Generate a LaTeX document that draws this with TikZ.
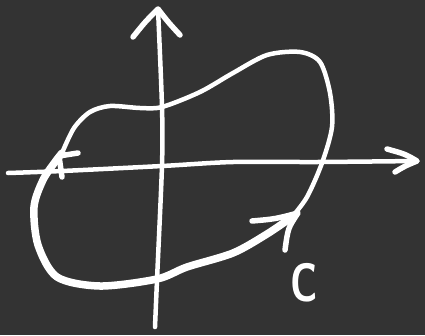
\documentclass[tikz,border=0pt]{standalone}
\usetikzlibrary{calc}
\definecolor{bg}{RGB}{51,51,51}
\tikzset{
  chalk/.style={draw=white, line width=4.5pt, line cap=round, line join=round},
  chalkthick/.style={draw=white, line width=7.5pt, line cap=round, line join=round},
  arm/.style={draw=white, line width=5.5pt, line cap=round, line join=round},
}
\begin{document}
\begin{tikzpicture}[x=1pt,y=-1pt]
\fill[bg] (0,0) rectangle (425,335);
\useasboundingbox (0,0) rectangle (425,335);
% vertical axis
\coordinate (vb) at (155,327);
\coordinate (vt) at (158,9);
\draw[chalk] plot[smooth] coordinates {(vb) (157,280) (162,165) (162,107) (vt)};
\draw[arm] (133,37) .. controls (145,22) .. (vt) .. controls (168,22) .. (180,35);
% horizontal axis
\coordinate (hl) at (8,173);
\coordinate (hr) at (417,161);
\draw[chalk] plot[smooth] coordinates {(hl) (62,171) (162,166) (233,162) (317,162) (hr)};
\draw[arm] (387,149) .. controls (405,154) .. (hr) .. controls (405,166) .. (395,172);
% closed curve, thin upper part
\draw[chalk] plot[smooth] coordinates {(62,153) (74,128) (90,112) (110,106) (140,108) (162,107) (200,92) (233,73) (267,55) (300,52) (320,62) (330,93) (332,127) (322,163) (307,197) (292,217)};
% thick lower part
\draw[chalkthick] plot[smooth] coordinates {(292,217) (267,234) (233,253) (187,267) (157,279) (100,286) (57,277) (38,245) (34,207) (43,180) (55,162) (62,153)};
% arrow marks on curve
\draw[arm] (78,153) -- (59,156) -- (62,177);
\draw[arm] (252,221) .. controls (275,219) .. (298,213) .. controls (288,228) .. (285,250);
% label
\node[text=white, font=\sffamily\bfseries\fontsize{54}{54}\selectfont, xscale=0.72] (lab) at (304,283) {C};
\end{tikzpicture}
\end{document}
